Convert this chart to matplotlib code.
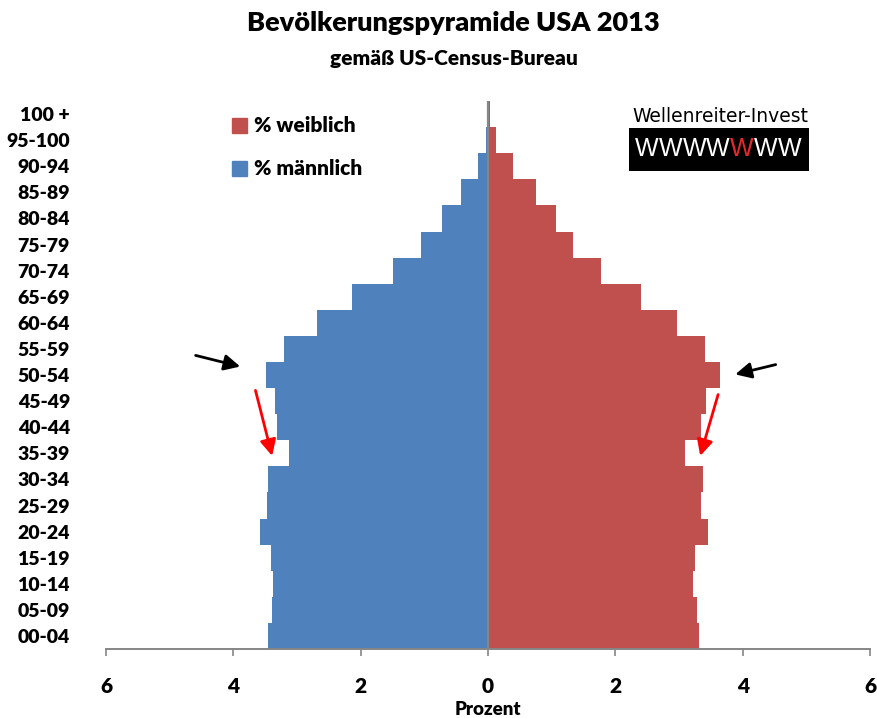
import matplotlib.pyplot as plt
from matplotlib.patches import Patch, Rectangle

# age groups, youngest first (bottom of the pyramid)
age_groups = ['00-04', '05-09', '10-14', '15-19', '20-24', '25-29', '30-34',
              '35-39', '40-44', '45-49', '50-54', '55-59', '60-64', '65-69',
              '70-74', '75-79', '80-84', '85-89', '90-94', '95-100', '100 +']
# share of total population in percent
male_pct = [3.46, 3.40, 3.38, 3.41, 3.58, 3.47, 3.46,
            3.13, 3.31, 3.34, 3.49, 3.20, 2.69, 2.13,
            1.49, 1.05, 0.72, 0.43, 0.16, 0.04, 0.02]
female_pct = [3.31, 3.28, 3.22, 3.25, 3.46, 3.34, 3.37,
              3.10, 3.34, 3.43, 3.64, 3.40, 2.96, 2.40,
              1.78, 1.34, 1.07, 0.75, 0.39, 0.12, 0.03]
x_ticks = [-6, -4, -2, 0, 2, 4, 6]

BLUE = '#4F81BD'
RED = '#C0504D'
GRAY = '#868686'
FONT = 'Lato'
WEIGHT = 'heavy'

fig = plt.figure(figsize=(8.77, 7.18), dpi=100)
ax = fig.add_axes([0.1209, 0.0960, 0.8712, 0.7633])

y = list(range(len(age_groups)))
ax.barh(y, [-v for v in male_pct], height=1.0, color=BLUE, linewidth=0)
ax.barh(y, female_pct, height=1.0, color=RED, linewidth=0)
ax.axvline(0, color=GRAY, lw=1.6, zorder=3)

ax.set_xlim(-6, 6)
ax.set_ylim(-0.5, len(age_groups) - 0.5)
ax.set_xticks(x_ticks)
ax.set_xticklabels([str(abs(t)) for t in x_ticks], fontfamily=FONT,
                   fontweight=WEIGHT, fontsize=15)
ax.set_yticks(y)
ax.set_yticklabels(age_groups, fontfamily=FONT, fontweight=WEIGHT, fontsize=14)
ax.tick_params(axis='x', length=5, width=1.2, color=GRAY, pad=15)
ax.tick_params(axis='y', length=0, pad=26)
for side in ['top', 'right', 'left']:
    ax.spines[side].set_visible(False)
ax.spines['bottom'].set_color(GRAY)
ax.spines['bottom'].set_linewidth(1.4)
ax.set_xlabel('Prozent', fontfamily=FONT, fontweight=WEIGHT, fontsize=13.5,
              labelpad=4)

# legend, female entry on top
handles = [Patch(color=RED, label='% weiblich'), Patch(color=BLUE, label='% männlich')]
ax.legend(handles=handles, loc='upper left', bbox_to_anchor=(0.14, 1.006),
          frameon=False, handlelength=0.75, handleheight=0.75, handletextpad=0.3,
          labelspacing=1.15, prop={'family': FONT, 'weight': WEIGHT, 'size': 15})

# arrows marking the 50-54 bulge and the 35-39 dip
i_peak = age_groups.index('50-54')
i_dip = age_groups.index('35-39')
black_arrow = dict(arrowstyle='-|>', color='black', lw=2, mutation_scale=24)
red_arrow = dict(arrowstyle='-|>', color='#FF0000', lw=2, mutation_scale=24)
ax.annotate('', xy=(-male_pct[i_peak] - 0.36, i_peak + 0.3), xytext=(-36, 9),
            textcoords='offset points', arrowprops=black_arrow)
ax.annotate('', xy=(female_pct[i_peak] + 0.2, i_peak), xytext=(33, 8),
            textcoords='offset points', arrowprops=black_arrow)
ax.annotate('', xy=(-male_pct[i_dip] - 0.25, i_dip - 0.2), xytext=(-13, 51),
            textcoords='offset points', arrowprops=red_arrow)
ax.annotate('', xy=(female_pct[i_dip] + 0.22, i_dip - 0.2), xytext=(14, 48),
            textcoords='offset points', arrowprops=red_arrow)

# titles
fig.text(0.517, 0.968, 'Bevölkerungspyramide USA 2013', ha='center', va='center',
         fontfamily=FONT, fontweight=WEIGHT, fontsize=19.5)
fig.text(0.518, 0.918, 'gemäß US-Census-Bureau', ha='center', va='center',
         fontfamily=FONT, fontweight=WEIGHT, fontsize=15)

# Wellenreiter-Invest logo
fig.text(0.8215, 0.838, 'Wellenreiter-Invest', ha='center', va='center',
         fontfamily='DejaVu Sans', fontsize=13.5)
fig.patches.append(Rectangle((0.7172, 0.7623), 0.2052, 0.0591,
                             transform=fig.transFigure, facecolor='black',
                             edgecolor='none'))
for k in range(7):
    fig.text(0.7375 + k * 0.0271, 0.7918, 'W', ha='center', va='center',
             color='#E8282B' if k == 4 else 'white',
             fontfamily='Liberation Sans', fontsize=18)

fig.savefig('out.png', dpi=100)
